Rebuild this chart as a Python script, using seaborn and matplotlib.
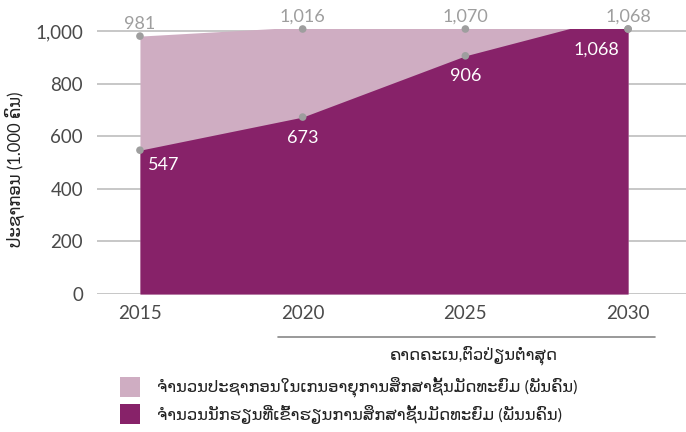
import numpy as np
import pandas as pd
import matplotlib
matplotlib.use("Agg")
import matplotlib.pyplot as plt
import seaborn as sns
from matplotlib.patches import Rectangle
from matplotlib.lines import Line2D

# chart data
years = [2015, 2020, 2025, 2030]
population = [981, 1016, 1070, 1068]
enrolled = [547, 673, 906, 1068]
y_ticks = [0, 200, 400, 600, 800, 1000]

y_label = "ປະຊາກອນ (1.000 ຄົນ)"
proj_label = "ຄາດຄະເນ,ຕົວປ່ຽນຕໍ່າສຸດ"
legend_labels = [
    "ຈຳນວນປະຊາກອນໃນເກນອາຍຸການສຶກສາຊັ້ນມັດທະຍົມ (ພັນຄົນ)",
    "ຈຳນວນນັກຮຽນທີ່ເຂົ້າຮຽນການສຶກສາຊັ້ນມັດທະຍົມ (ພັນນຄົນ)",
]

LIGHT = "#CFADC2"
DARK = "#872269"
GREY = "#9E9E9E"
TEXT = "#4A4A4A"
Y_TOP = 1008  # plot area is cut just above the 1,000 line

sns.set_theme(style="white")
plt.rcParams['font.family'] = ['Lato', 'DejaVu Sans']

df = pd.DataFrame({"year": years, "population": population, "enrolled": enrolled})
# markers sit on the clipped edge of the plot area, like the original
df["pop_shown"] = np.minimum(df["population"], Y_TOP)
df["enr_shown"] = np.minimum(df["enrolled"], Y_TOP)

fig = plt.figure(figsize=(6.86, 4.32), dpi=100)
ax = fig.add_axes([97 / 686, 138 / 432, 1 - 97 / 686, 265 / 432])

ax.fill_between(df["year"], 0, df["population"], color=LIGHT, lw=0, zorder=2)
ax.fill_between(df["year"], 0, df["enrolled"], color=DARK, lw=0, zorder=3)

sns.scatterplot(data=df, x="year", y="pop_shown", ax=ax, color=GREY, s=30,
                edgecolor="none", zorder=5, clip_on=False)
sns.scatterplot(data=df, x="year", y="enr_shown", ax=ax, color=GREY, s=30,
                edgecolor="none", zorder=5, clip_on=False)

for x, v, vs in zip(years, population, df["pop_shown"]):
    ax.annotate(f"{v:,}", (x, vs), xytext=(0, 3), textcoords="offset points",
                ha="center", va="bottom", fontsize=13, color=GREY,
                zorder=6, annotation_clip=False)

enr_offsets = [(6, -5, "left", "top"), (0, -9, "center", "top"),
               (0, -9, "center", "top"), (-6, -9, "right", "top")]
for x, v, vs, (dx, dy, ha, va) in zip(years, enrolled, df["enr_shown"], enr_offsets):
    ax.annotate(f"{v:,}", (x, vs), xytext=(dx, dy), textcoords="offset points",
                ha=ha, va=va, fontsize=13, color="white", zorder=6)

ax.set_xlim(2013.68, 2031.78)
ax.set_ylim(0, Y_TOP)
ax.set_yticks(y_ticks)
ax.set_yticklabels([f"{t:,}" for t in y_ticks])
ax.set_xticks(years)
ax.set_xticklabels([str(y) for y in years])
ax.tick_params(axis="both", length=0, labelsize=13.5, colors=TEXT)
ax.tick_params(axis="y", pad=10)
ax.tick_params(axis="x", pad=8)
for t in y_ticks:
    ax.axhline(t, color="#BDBDBD", lw=1.2, zorder=1)
for s in ax.spines.values():
    s.set_visible(False)
ax.set_xlabel("")
ax.set_ylabel(y_label, fontsize=12, color="#222222")
ax.yaxis.set_label_coords(-0.122, 0.47)

# projection bracket under 2020-2030
fig.add_artist(Line2D([278 / 686, 655 / 686], [1 - 337 / 432, 1 - 337 / 432],
                      color="#888888", lw=1.2))
fig.text(474 / 686, 1 - 355 / 432, proj_label, ha="center", va="center",
         fontsize=11.8, color="#222222")

# legend
for i, (lab, col) in enumerate(zip(legend_labels, [LIGHT, DARK])):
    yc = 387 + i * 27
    fig.add_artist(Rectangle((120 / 686, 1 - (yc + 10) / 432), 20 / 686, 20 / 432,
                             color=col, lw=0))
    fig.text(157 / 686, 1 - yc / 432, lab, ha="left", va="center",
             fontsize=11.8, color="#222222")

fig.savefig("out.png", dpi=100)
